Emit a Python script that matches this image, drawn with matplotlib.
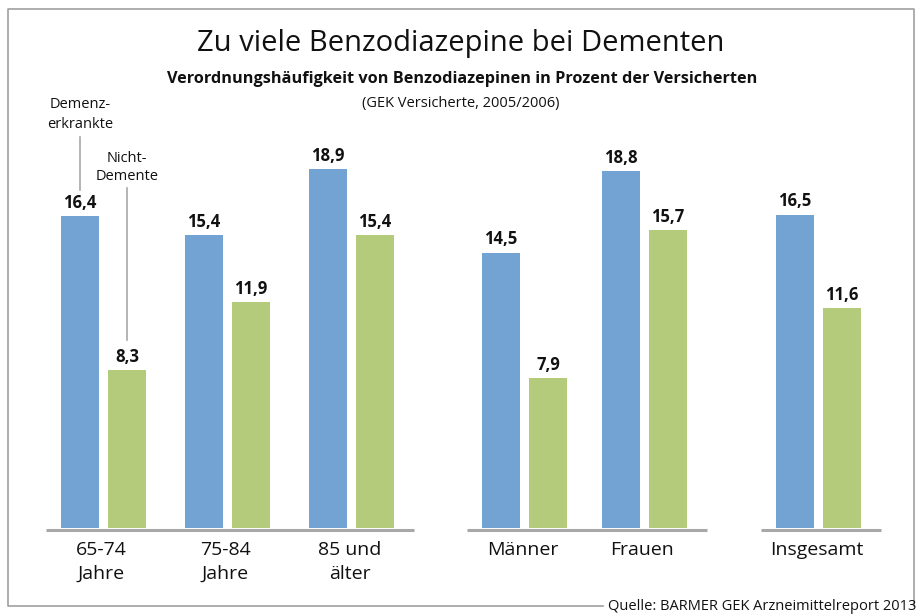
import matplotlib.pyplot as plt

plt.rcParams['font.family'] = ['Open Sans', 'DejaVu Sans']

categories = ["65-74\nJahre", "75-84\nJahre", "85 und\nälter", "Männer", "Frauen", "Insgesamt"]
cluster = [0, 0, 0, 1, 1, 2]
demenzkranke = [16.4, 15.4, 18.9, 14.5, 18.8, 16.5]
nicht_demente = [8.3, 11.9, 15.4, 7.9, 15.7, 11.6]

BLUE = "#72a3d3"
GREEN = "#b3cb7a"
GRAY = "#a8a8a8"

W, H = 917, 614
BASE = 528   # pixel row of the zero line
PX = 19.0    # pixels per percent
GROUP_X = [103.5, 227.5, 351.5, 524.5, 644.5, 818.5]  # pair centres in pixels


def yv(ypx):
    # pixel row (from top) -> data value
    return (BASE - ypx) / PX


fig = plt.figure(figsize=(W / 100, H / 100), dpi=100)
ax = fig.add_axes([0, 0, 1, 1])
ax.set_xlim(0, W)
ax.set_ylim(yv(H), yv(0))
ax.axis("off")

xb = [c - 23.5 for c in GROUP_X]
xg = [c + 23.5 for c in GROUP_X]
ax.bar(xb, demenzkranke, width=38, color=BLUE, zorder=2)
ax.bar(xg, nicht_demente, width=38, color=GREEN, zorder=2)

for x, v in zip(xb, demenzkranke):
    ax.text(x, v + 13 / PX, f"{v:.1f}".replace(".", ","), ha="center", va="center",
            fontsize=12, fontweight="bold", color="#111111")
for x, v in zip(xg, nicht_demente):
    ax.text(x, v + 13 / PX, f"{v:.1f}".replace(".", ","), ha="center", va="center",
            fontsize=12, fontweight="bold", color="#111111")

# baselines per cluster
for c in sorted(set(cluster)):
    xs = [x for x, k in zip(GROUP_X, cluster) if k == c]
    ax.plot([min(xs) - 58, max(xs) + 62], [yv(BASE + 1.5)] * 2, color=GRAY, lw=2.2,
            solid_capstyle="butt", zorder=1)

# category labels
for x, lab in zip(GROUP_X, categories):
    for k, line in enumerate(lab.split("\n")):
        ax.text(x - 2, yv(550 + 24 * k), line, ha="center", va="center", fontsize=14,
                color="#111111")

# series annotations
ann = dict(ha="center", va="center", fontsize=10.5, fontweight="medium", color="#111111")
ax.text(80, yv(105), "Demenz-", **ann)
ax.text(80, yv(125), "erkrankte", **ann)
ax.plot([80, 80], [yv(137), yv(190)], color=GRAY, lw=1.2)
ax.text(127, yv(158), "Nicht-", **ann)
ax.text(127, yv(177), "Demente", **ann)
ax.plot([127, 127], [yv(188), yv(340)], color=GRAY, lw=1.2)

# titles
fig.text(460.5 / W, 1 - 43 / H, "Zu viele Benzodiazepine bei Dementen", ha="center",
         va="center", fontsize=21, color="#111111")
fig.text(462 / W, 1 - 79 / H,
         "Verordnungshäufigkeit von Benzodiazepinen in Prozent der Versicherten",
         ha="center", va="center", fontsize=11.7, fontweight="bold", color="#111111")
fig.text(461 / W, 1 - 103 / H, "(GEK Versicherte, 2005/2006)", ha="center", va="center",
         fontsize=10.5, color="#111111")

# frame, bottom edge interrupted by the source line
ax.plot([603, 8, 8, 914, 914], [yv(606), yv(606), yv(9), yv(9), yv(606)],
        color="#a0a0a0", lw=1.2, clip_on=False)
fig.text(916 / W, 1 - 607 / H, "Quelle: BARMER GEK Arzneimittelreport 2013", ha="right",
         va="center", fontsize=10.5, color="#111111")

fig.savefig("out.png", dpi=100)
